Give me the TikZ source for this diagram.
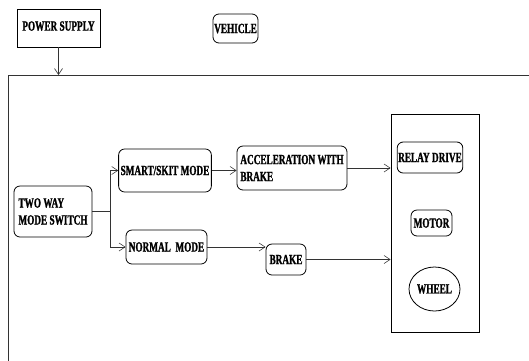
\documentclass[tikz,border=0pt]{standalone}
\usepackage{fontspec}
\setmainfont{Liberation Serif}[FakeStretch=0.66, BoldFeatures={FakeBold=1.2}]
\usetikzlibrary{arrows.meta,shapes.geometric}
\begin{document}
\begin{tikzpicture}[x=1pt,y=-1pt,
  every node/.style={font=\fontsize{14}{17}\selectfont\bfseries, inner sep=2pt},
  sqbox/.style={draw, line width=0.8pt, rectangle},
  rbox/.style={draw, line width=0.8pt, rectangle, rounded corners=6pt},
  ebox/.style={draw, line width=0.8pt, ellipse, inner sep=0pt},
  conn/.style={line width=0.8pt, draw=black!80, -{Straight Barb[length=6pt,width=8pt,line width=0.6pt]}},
  plain/.style={line width=0.8pt, draw=black!80}]
\useasboundingbox (0,0) rectangle (529,360);
% outer frame (open to right and bottom)
\draw[plain] (535,75) -- (8,75) -- (8,365);
\coordinate (frametop) at (57,75);
\node[sqbox, minimum width=83pt, minimum height=38pt] (ps) at (58.5,28) {\raisebox{4pt}{POWER SUPPLY}};
\node[rbox, minimum width=45pt, minimum height=29pt, inner sep=1pt] (veh) at (235.5,28.5) {VEHICLE};
\node[rbox, minimum width=78pt, minimum height=51pt, align=left] (tw) at (53,211.5) {TWO WAY\\MODE SWITCH};
\node[rbox, minimum width=90pt, minimum height=43pt] (sm) at (165,170.5) {SMART/SKIT MODE};
\node[rbox, minimum width=110pt, minimum height=44pt, align=left] (acc) at (292,168) {ACCELERATION WITH\\BRAKE};
\node[rbox, minimum width=81pt, minimum height=34pt] (nm) at (166.5,247) {NORMAL\ \ MODE};
\node[rbox, minimum width=40pt, minimum height=31pt, inner sep=1pt] (br) at (286,259.5) {BRAKE};
\node[sqbox, minimum width=88pt, minimum height=218pt] (fr) at (435,223) {};
\node[rbox, minimum width=64pt, minimum height=31pt, inner sep=1pt] (rd) at (430,157.5) {RELAY DRIVE};
\node[rbox, minimum width=41pt, minimum height=26pt, inner sep=1pt] (mo) at (431.5,223) {MOTOR};
\node[ebox, minimum width=51pt, minimum height=44pt] (wh) at (434.5,289) {WHEEL};
% connectors
\draw[conn] (ps.south) -- (ps.south |- frametop);
\coordinate (split) at (110,211.5);
\draw[plain] (tw.east) -- (split);
\draw[conn] (split) |- (sm.west);
\draw[conn] (split) |- (nm.west);
\draw[conn] (sm.east) -- (sm.east -| acc.west);
\draw[conn] (acc.east) -- (acc.east -| fr.west);
\draw[conn] (nm.east) -- (nm.east -| br.west);
\draw[conn] (br.east) -- (br.east -| fr.west);
\end{tikzpicture}
\end{document}
